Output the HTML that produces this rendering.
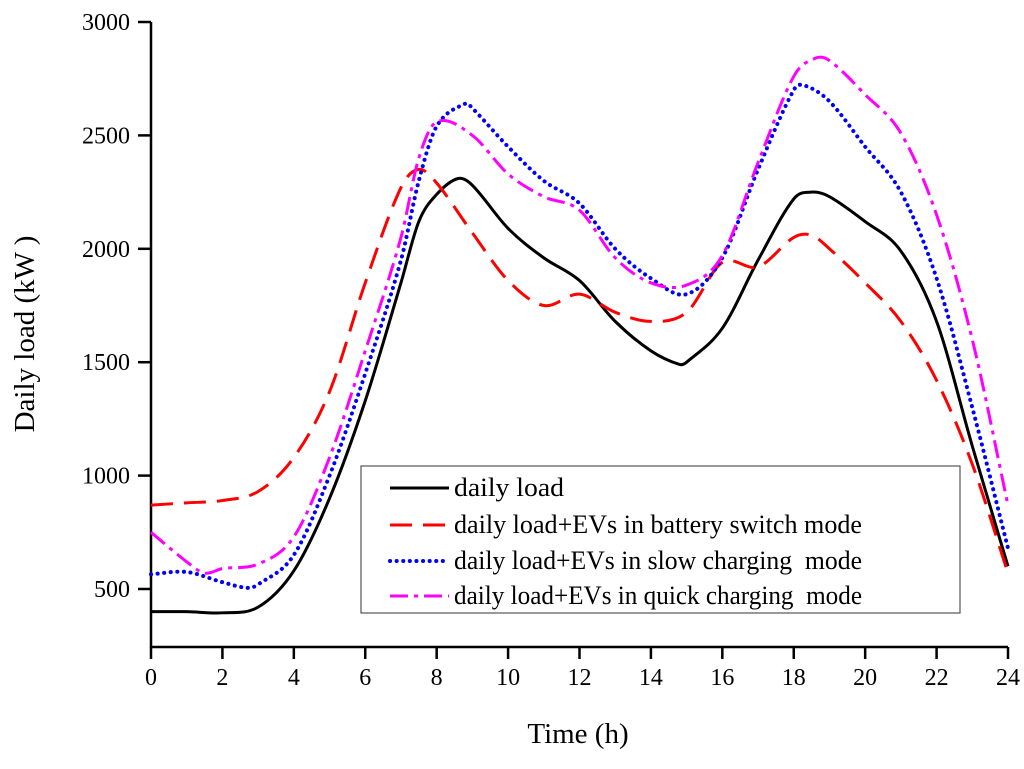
<!DOCTYPE html>
<html><head><meta charset="utf-8"><style>
body{margin:0;background:#fff}
svg text{font-family:"Liberation Serif",serif;fill:#000}
</style></head><body>
<svg id="chart" width="1024" height="764" xmlns="http://www.w3.org/2000/svg">
<g id="axes"></g><g id="series"></g><g id="legend"></g>
</svg>
<script>
const xTicks=[0,2,4,6,8,10,12,14,16,18,20,22,24];
const yTicks=[500,1000,1500,2000,2500,3000];
const loadX=[0,1,2,3,4,5,6,7,7.5,8,8.6,9,10,11,12,13,14,14.8,15,16,17,18,18.5,19,20,21,22,23,24];
const loadY=[400,400,395,420,580,900,1330,1850,2120,2240,2310,2280,2090,1960,1860,1680,1550,1490,1500,1650,1950,2220,2250,2230,2120,1990,1680,1130,600];
const swapX=[0,1,2,3,4,5,6,7,7.5,8,9,10,11,12,13,14,15,16,17,18,18.5,19,20,21,22,23,24];
const swapY=[870,880,890,930,1080,1370,1850,2270,2350,2290,2070,1860,1750,1800,1720,1680,1720,1940,1920,2050,2060,2000,1850,1680,1420,1050,570];
const slowX=[0,1,2,2.7,3,4,5,6,7,7.5,8,8.8,9,10,11,12,13,14,15,16,17,18,18.3,19,20,21,22,23,24];
const slowY=[565,575,530,505,520,650,1000,1450,1950,2300,2540,2640,2620,2450,2300,2200,2000,1870,1800,1960,2350,2700,2720,2650,2450,2250,1870,1300,680];
const quickX=[0,1,1.5,2,3,4,5,6,7,7.5,8,9,10,11,12,13,14,15,16,17,18,18.6,19,20,21,22,23,24];
const quickY=[750,620,570,590,610,730,1080,1550,2050,2400,2560,2500,2330,2230,2170,1960,1850,1840,1970,2380,2760,2840,2830,2680,2510,2150,1600,870];

const X=v=>151+v*(857/24);
const Y=v=>589-(v-500)*0.2268;
const NS="http://www.w3.org/2000/svg";
function mk(p,tag,attrs){const e=document.createElementNS(NS,tag);for(const k in attrs)e.setAttribute(k,attrs[k]);p.appendChild(e);return e;}
const axes=document.getElementById('axes');
let a=mk(axes,'path',{d:`M151 22 V647 H1008`,stroke:'#000','stroke-width':2.5,fill:'none'});


xTicks.forEach((t,i)=>{
 let l=mk(axes,'line',{x1:X(t),x2:X(t),y1:647,y2:659,stroke:'#000','stroke-width':2.5});
 
 
 let tx=mk(axes,'text',{x:X(t),y:685,'text-anchor':'middle','font-size':24});tx.textContent=t;
 
 
});
yTicks.forEach(t=>{
 let l=mk(axes,'line',{x1:138,x2:151,y1:Y(t),y2:Y(t),stroke:'#000','stroke-width':2.5});
 
 
 let tx=mk(axes,'text',{x:130,y:Y(t)+8,'text-anchor':'end','font-size':24});tx.textContent=t;
 
 
});
let xt=mk(axes,'text',{x:578,y:743,'text-anchor':'middle','font-size':29});xt.textContent='Time (h)';


let yt=mk(axes,'text',{x:0,y:0,'text-anchor':'middle','font-size':29,transform:'translate(34,334) rotate(-90)'});yt.textContent='Daily load (kW )';



function path(xs,ys){
 const n=xs.length,m=[];
 for(let i=0;i<n;i++){
  const a=Math.max(0,i-1),b=Math.min(n-1,i+1);
  m.push((ys[b]-ys[a])/(xs[b]-xs[a]));
 }
 let d=`M${X(xs[0])} ${Y(ys[0])}`;
 for(let i=0;i<n-1;i++){
  const h=(xs[i+1]-xs[i])/3;
  d+=` C${X(xs[i]+h)} ${Y(ys[i]+m[i]*h)} ${X(xs[i+1]-h)} ${Y(ys[i+1]-m[i+1]*h)} ${X(xs[i+1])} ${Y(ys[i+1])}`;
 }
 return d;
}
const series=[
 {xs:loadX,ys:loadY,c:'#000',dash:'',w:3,name:'daily-load-line',label:'daily load'},
 {xs:swapX,ys:swapY,c:'#ff0000',dash:'22 11',w:3,name:'battery-switch-line',label:'daily load+EVs in battery switch mode'},
 {xs:slowX,ys:slowY,c:'#0000ff',dash:'0.1 6.5',w:4,name:'slow-charging-line',label:'daily load+EVs in slow charging  mode'},
 {xs:quickX,ys:quickY,c:'#ff00ff',dash:'18 6 4 6',w:3,name:'quick-charging-line',label:'daily load+EVs in quick charging  mode'}
];
const rowY=[488,525,561,596];
const sg=document.getElementById('series'),lg=document.getElementById('legend');
let box=mk(lg,'rect',{x:361,y:466,width:599,height:147,fill:'#fff',stroke:'#555','stroke-width':1.2});


series.forEach((s,i)=>{
 const cap=s.dash.startsWith('0.1')?'round':'butt';
 let p=mk(sg,'path',{d:path(s.xs,s.ys),stroke:s.c,'stroke-width':s.w,fill:'none','stroke-dasharray':s.dash,'stroke-linecap':cap});
 
 
 const ly=rowY[i];
 let l=mk(lg,'line',{x1:390,x2:449,y1:ly,y2:ly,stroke:s.c,'stroke-width':s.w,'stroke-dasharray':s.dash,'stroke-linecap':cap});
 
 
 let t=mk(lg,'text',{x:454,y:ly+8,'font-size':26,textLength:(i==0?110:408),lengthAdjust:'spacingAndGlyphs'});t.textContent=s.label;
 t.style.whiteSpace='pre';
 
 
});
</script>
</body></html>
